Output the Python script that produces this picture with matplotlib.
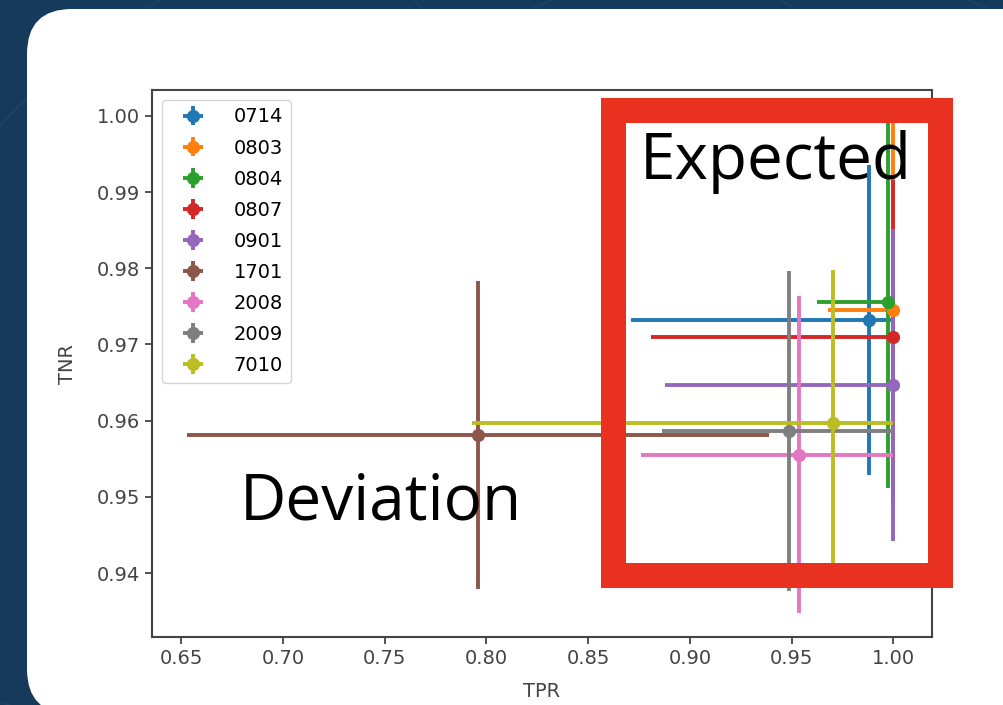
import matplotlib
matplotlib.use("Agg")
import matplotlib.pyplot as plt
from matplotlib.patches import FancyBboxPatch, Rectangle, Circle
from matplotlib.transforms import IdentityTransform

# ---- data ----
names = ['0714', '0803', '0804', '0807', '0901', '1701', '2008', '2009', '7010']
tpr = [0.988, 1.000, 0.9975, 1.000, 1.000, 0.796, 0.9535, 0.9487, 0.9703]
tnr = [0.9732, 0.9745, 0.9756, 0.9710, 0.9647, 0.9581, 0.9555, 0.9587, 0.9597]
tpr_err_low = [0.117, 0.032, 0.035, 0.119, 0.112, 0.143, 0.0775, 0.0625, 0.1776]
tpr_err_high = [0.012, 0.0, 0.0025, 0.0, 0.0, 0.143, 0.0465, 0.0513, 0.0297]
tnr_err = [0.0204, 0.0255, 0.0244, 0.0206, 0.0205, 0.0202, 0.0208, 0.0210, 0.0201]
xticks = [0.65, 0.70, 0.75, 0.80, 0.85, 0.90, 0.95, 1.00]
yticks = [0.94, 0.95, 0.96, 0.97, 0.98, 0.99, 1.00]

W, H = 1004, 705
fig = plt.figure(figsize=(W / 100, H / 100), dpi=100)
fig.patch.set_facecolor('#163a5b')

# faint decorative arcs in the slide background
for (cx, cy, r) in [(470, 560, 640), (760, 520, 560), (120, 300, 420)]:
    fig.add_artist(Circle((cx, H - cy), r, transform=IdentityTransform(),
                          fill=False, edgecolor='#2a5273', lw=0.8, alpha=0.5, zorder=-20))

# white rounded slide panel
panel = FancyBboxPatch((27, H - 714), 1040, 705, transform=IdentityTransform(),
                       boxstyle='round,pad=0,rounding_size=45',
                       facecolor='white', edgecolor='none', zorder=-10)
fig.add_artist(panel)

ax = fig.add_axes([152 / W, (H - 637) / H, 780 / W, 547 / H])
ax.set_facecolor('white')

for i, name in enumerate(names):
    ax.errorbar(tpr[i], tnr[i],
                xerr=[[tpr_err_low[i]], [tpr_err_high[i]]],
                yerr=tnr_err[i], fmt='o', color=f'C{i}',
                markersize=8.5, elinewidth=2.8, label=name)

ax.set_xlim(0.6356, 1.019)
ax.set_ylim(0.9316, 1.0034)
ax.set_xticks(xticks)
ax.set_yticks(yticks)
ax.set_xticklabels([f'{v:.2f}' for v in xticks])
ax.set_yticklabels([f'{v:.2f}' for v in yticks])
ax.tick_params(labelsize=14, colors='#444444', length=5, width=1.3)
for s in ax.spines.values():
    s.set_color('#444444')
    s.set_linewidth(1.5)
ax.set_xlabel('TPR', fontsize=14, color='#444444', labelpad=10)
ax.set_ylabel('TNR', fontsize=14, color='#444444', labelpad=14)

leg = ax.legend(loc='upper left', fontsize=14, labelspacing=0.62,
                handlelength=2.4, handletextpad=0.9, frameon=True)
leg.get_frame().set_edgecolor('#cccccc')

# red highlight box drawn over the chart
fig.add_artist(Rectangle((612.5 / W, (H - 574.5) / H), 328 / W, 465 / H,
                         transform=fig.transFigure, fill=False,
                         edgecolor='#e8321f', lw=18, joinstyle='miter', zorder=5))

fig.text(640 / W, (H - 179) / H, 'Expected', fontsize=46, family='Open Sans',
         color='black', ha='left', va='baseline', zorder=6)
fig.text(240 / W, (H - 519) / H, 'Deviation', fontsize=46, family='Open Sans',
         color='black', ha='left', va='baseline', zorder=6)

fig.savefig('out.png', dpi=100, facecolor=fig.get_facecolor())
